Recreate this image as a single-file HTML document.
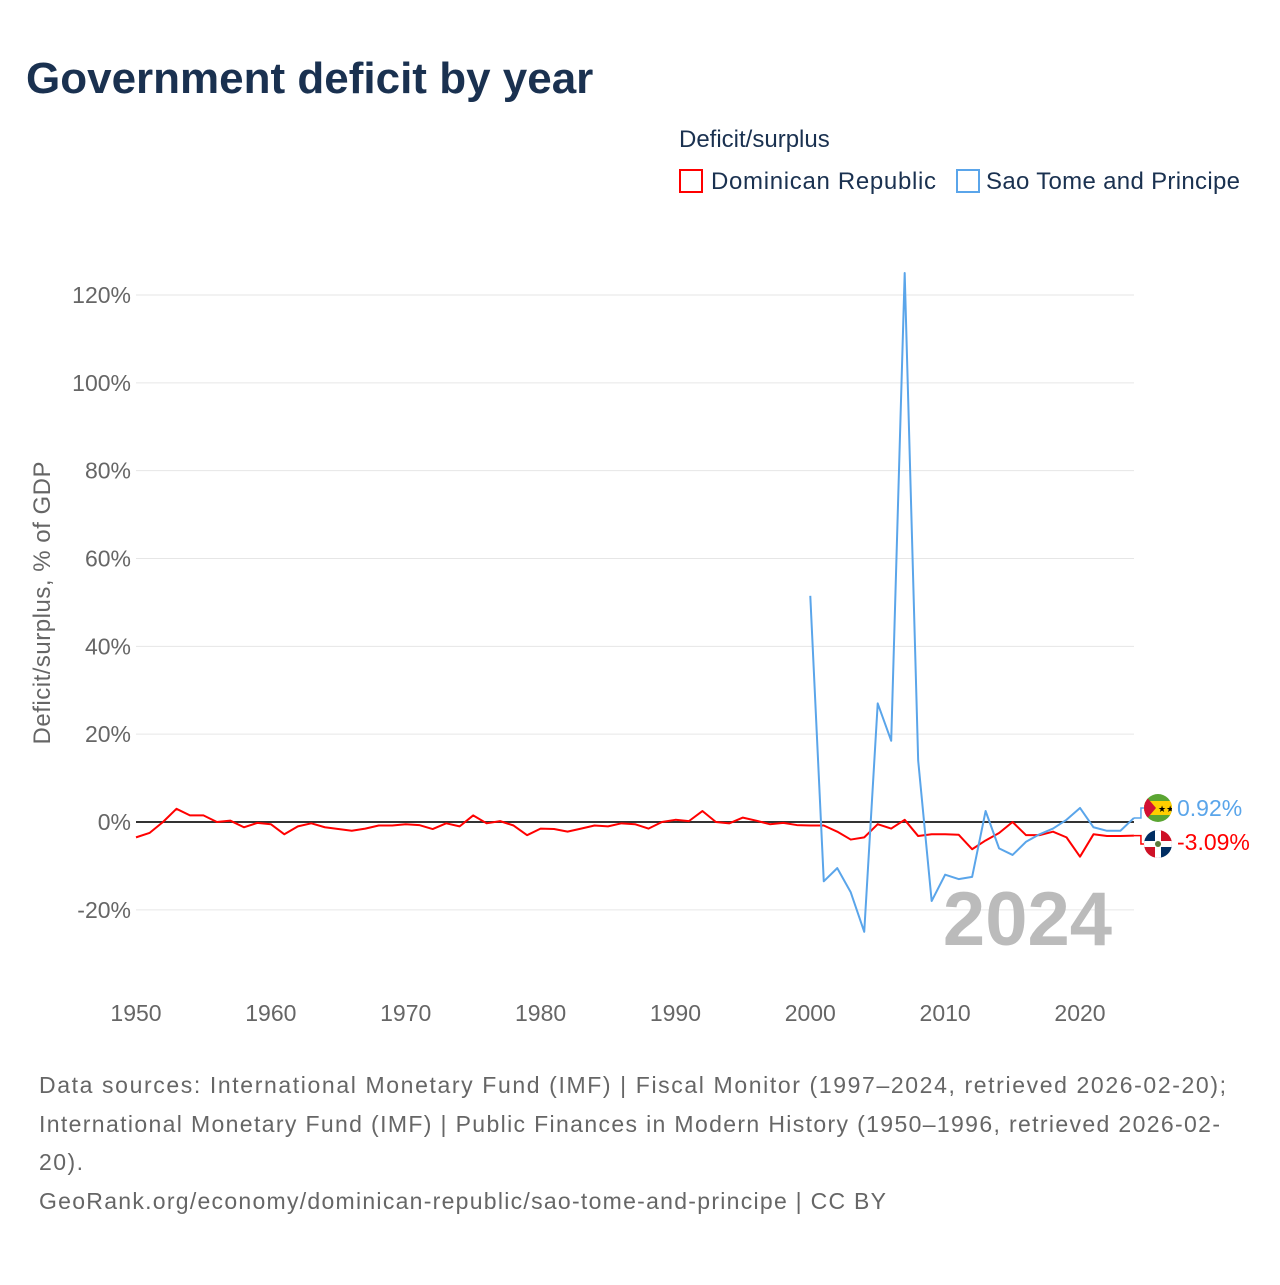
<!DOCTYPE html>
<html><head><meta charset="utf-8"><style>
body{margin:0;background:#fff;font-family:"Liberation Sans",sans-serif;}
svg text{font-family:"Liberation Sans",sans-serif;}
</style></head><body>
<svg id="chart" width="1280" height="1280" xmlns="http://www.w3.org/2000/svg">
<defs>
<clipPath id="c1"><circle cx="1158" cy="808" r="14"/></clipPath>
<clipPath id="c2"><circle cx="1158" cy="844" r="14"/></clipPath>
</defs>
<text x="26" y="93" font-size="44" font-weight="bold" fill="#1a3150">Government deficit by year</text>
<text x="679" y="147" font-size="24" fill="#1a3150">Deficit/surplus</text>
<g><rect x="680" y="170" width="22" height="22" fill="none" stroke="#f00" stroke-width="2"/><text x="711" y="189" font-size="24" fill="#1a3150" textLength="225">Dominican Republic</text></g>
<g><rect x="957" y="170" width="22" height="22" fill="none" stroke="#5aa5ea" stroke-width="2"/><text x="986" y="189" font-size="24" fill="#1a3150" textLength="254">Sao Tome and Principe</text></g>
<text transform="translate(50,603) rotate(-90)" text-anchor="middle" font-size="24" fill="#666" textLength="283">Deficit/surplus, % of GDP</text>
<g id="grid"></g><g id="xt"></g>
<text x="1112" y="945" text-anchor="end" font-size="76" font-weight="bold" fill="#bbb">2024</text>
<g id="lines"></g>
<g clip-path="url(#c1)"><rect x="1144" y="794" width="28" height="28" fill="#5aa532"/><rect x="1144" y="801" width="28" height="14" fill="#ffce00"/><path d="M1144,794 L1156,808 L1144,822Z" fill="#d21034"/><text x="1158" y="812" font-size="9" fill="#000">★★</text></g>
<text x="1177" y="816" font-size="23" fill="#5aa5ea">0.92%</text>
<g clip-path="url(#c2)"><rect x="1144" y="830" width="14" height="14" fill="#002d62"/><rect x="1158" y="830" width="14" height="14" fill="#ce1126"/><rect x="1144" y="844" width="14" height="14" fill="#ce1126"/><rect x="1158" y="844" width="14" height="14" fill="#002d62"/><rect x="1155" y="830" width="6" height="28" fill="#fff"/><rect x="1144" y="841" width="28" height="6" fill="#fff"/><circle cx="1158" cy="844" r="3" fill="#5a7a3a"/></g>
<text x="1177" y="850" font-size="23" fill="#f00">-3.09%</text>
<text font-size="23" fill="#666">
<tspan x="39" y="1093" textLength="1187">Data sources: International Monetary Fund (IMF) | Fiscal Monitor (1997–2024, retrieved 2026-02-20);</tspan>
<tspan x="39" y="1132" textLength="1181">International Monetary Fund (IMF) | Public Finances in Modern History (1950–1996, retrieved 2026-02-</tspan>
<tspan x="39" y="1170" textLength="44">20).</tspan>
<tspan x="39" y="1209" textLength="847">GeoRank.org/economy/dominican-republic/sao-tome-and-principe | CC BY</tspan>
</text>
</svg>
<script>
const yTicks=[-20,0,20,40,60,80,100,120];
const xTicks=[1950,1960,1970,1980,1990,2000,2010,2020];
const drYears=[];for(let y=1950;y<=2024;y++)drYears.push(y);
const drValues=[-3.5,-2.5,0,3,1.5,1.5,0,0.3,-1.2,-0.2,-0.5,-2.8,-1,-0.3,-1.2,-1.6,-2,-1.5,-0.8,-0.8,-0.5,-0.7,-1.6,-0.3,-1,1.5,-0.3,0.2,-0.8,-3,-1.5,-1.6,-2.2,-1.5,-0.8,-1,-0.3,-0.5,-1.5,0,0.5,0.2,2.5,0,-0.3,1,0.3,-0.5,-0.2,-0.7,-0.8,-0.8,-2.2,-4,-3.5,-0.5,-1.5,0.5,-3.2,-2.8,-2.8,-2.9,-6.2,-4.2,-2.5,0,-3,-3,-2.2,-3.5,-7.9,-2.8,-3.2,-3.2,-3.09];
const stpYears=[];for(let y=2000;y<=2024;y++)stpYears.push(y);
const stpValues=[51.5,-13.5,-10.5,-16,-25,27,18.5,125,14,-18,-12,-13,-12.5,2.5,-6,-7.5,-4.5,-2.8,-1.5,0.5,3.2,-1.2,-2,-2,0.92];
const X=y=>136+(y-1950)*(944/70);
const Y=v=>822-v*(527/120);
const NS='http://www.w3.org/2000/svg';
function mk(tag,attrs,parent){const e=document.createElementNS(NS,tag);for(const k in attrs)e.setAttribute(k,attrs[k]);parent.appendChild(e);return e;}
const grid=document.getElementById('grid');
yTicks.forEach(t=>{
  const l=mk('line',{x1:136,x2:1134,y1:Y(t),y2:Y(t),stroke:t===0?'#333':'#e6e6e6','stroke-width':t===0?2:1},grid);
  
  
  const tx=mk('text',{x:131,y:Y(t)+8,'text-anchor':'end','font-size':23,fill:'#666'},grid);
  tx.textContent=t+'%';
  
  
});
const xt=document.getElementById('xt');
xTicks.forEach(t=>{
  const tx=mk('text',{x:X(t),y:1021,'text-anchor':'middle','font-size':23,fill:'#666'},xt);
  tx.textContent=t;
  
  
});
const lines=document.getElementById('lines');
function series(xs,vs,col,name,ly){
  const pts=xs.map((x,i)=>X(x)+','+Y(vs[i])).join(' ');
  const p=mk('polyline',{points:pts,fill:'none',stroke:col,'stroke-width':2,'stroke-linejoin':'round'},lines);
  
  
  const lx=X(xs[xs.length-1]),lv=Y(vs[vs.length-1]);
  const c=mk('polyline',{points:`${lx},${lv} ${lx+7},${lv} ${lx+7},${ly} ${lx+10},${ly}`,fill:'none',stroke:col,'stroke-width':1.5},lines);
  
  
}
series(drYears,drValues,'#f00','line-dominican-republic',844);
series(stpYears,stpValues,'#5aa5ea','line-sao-tome',808);
</script>
</body></html>
